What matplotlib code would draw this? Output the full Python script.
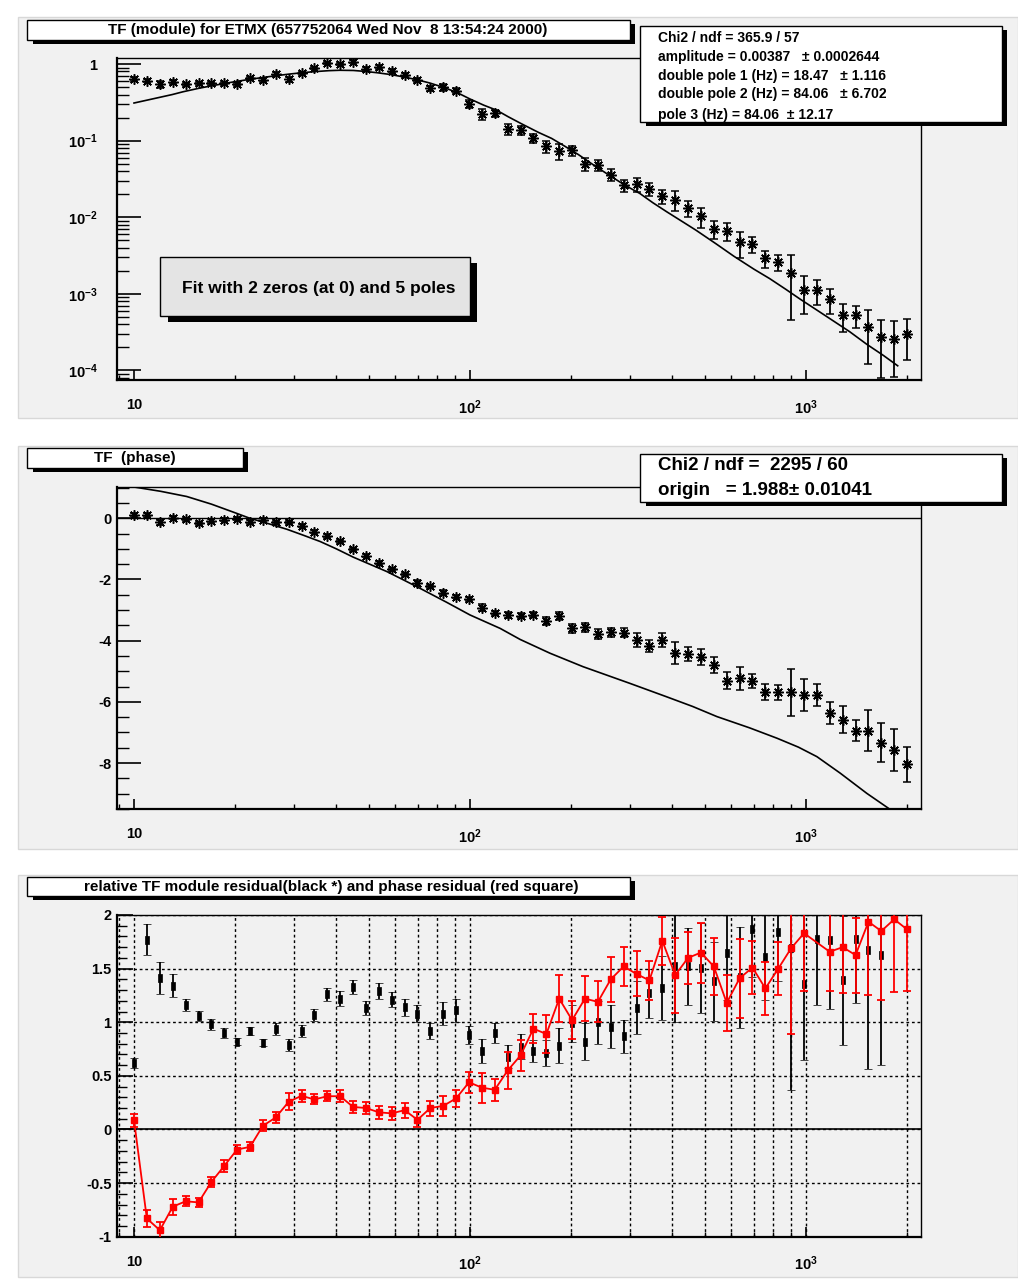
import numpy as np
import matplotlib
matplotlib.use("Agg")
import matplotlib.pyplot as plt
from matplotlib.patches import Rectangle
from matplotlib.path import Path
from matplotlib import ticker

plt.rcParams['font.family'] = ['Liberation Sans', 'DejaVu Sans']
plt.rcParams['font.weight'] = 'bold'
plt.rcParams['axes.unicode_minus'] = False
plt.rcParams['mathtext.fontset'] = 'custom'
plt.rcParams['mathtext.rm'] = 'Liberation Sans:bold'
plt.rcParams['mathtext.bf'] = 'Liberation Sans:bold'
plt.rcParams['mathtext.it'] = 'Liberation Sans:bold'

nan = np.nan

# frequencies (Hz) of the 61 measured points
freq = [10.0, 10.92, 11.94, 13.04, 14.24, 15.56, 16.99, 18.56, 20.27, 22.15,
        24.19, 26.42, 28.86, 31.52, 34.43, 37.61, 41.08, 44.88, 49.02, 53.55,
        58.48, 63.89, 69.78, 76.22, 83.26, 90.94, 99.34, 108.5, 118.5, 129.5,
        141.4, 154.5, 168.8, 184.3, 201.3, 219.9, 240.3, 262.4, 286.7, 313.1,
        342.0, 373.6, 408.1, 445.8, 486.9, 531.9, 581.0, 634.6, 693.2, 757.2,
        827.1, 903.4, 986.8, 1078, 1177, 1286, 1405, 1535, 1676, 1831,
        2000]

# TF module
mod_val = [0.636, 0.605, 0.547, 0.587, 0.547, 0.558, 0.558, 0.558, 0.547, 0.655,
           0.617, 0.740, 0.636, 0.755, 0.887, 1.03, 1.00, 1.08, 0.86, 0.92,
           0.82, 0.72, 0.62, 0.48, 0.50, 0.45, 0.305, 0.221, 0.228, 0.141,
           0.137, 0.109, 0.085, 0.073, 0.075, 0.050, 0.048, 0.036, 0.026, 0.027,
           0.0235, 0.0188, 0.0170, 0.0132, 0.0103, 0.0070, 0.0067, 0.0047, 0.0045, 0.0029,
           0.0026, 0.00186, 0.00112, 0.00112, 0.00086, 0.00053, 0.00053, 0.00037, 0.00027, 0.00026,
           0.00030]
mod_err = [0.032, 0.030, 0.060, 0.035, 0.027, 0.022, 0.022, 0.028, 0.027, 0.033,
           0.031, 0.037, 0.045, 0.038, 0.035, 0.041, 0.040, 0.043, 0.043, 0.046,
           0.041, 0.036, 0.037, 0.034, 0.055, 0.036, 0.037, 0.035, 0.023, 0.024,
           0.019, 0.015, 0.015, 0.017, 0.011, 0.010, 0.0082, 0.0065, 0.0047, 0.0057,
           0.0045, 0.0039, 0.0051, 0.0030, 0.0030, 0.0018, 0.0018, 0.0018, 0.0011, 0.00073,
           0.00062, 0.0014, 0.00058, 0.00040, 0.00031, 0.00021, 0.00017, 0.00025, 0.00019, 0.000178,
           0.000165]
mod_fit_f = [10, 11, 12, 13, 14, 15.5, 17, 18.5, 20, 22, 24, 26.5, 29, 32, 35, 38, 41, 45,
             49, 53, 58, 64, 70, 76, 83, 91, 100, 110, 120, 130, 142, 160, 175, 192, 210,
             235, 262, 290, 320, 350, 385, 430, 470, 540, 610, 700, 780, 870, 962, 1080,
             1200, 1350, 1516, 1700, 1875]
mod_fit_v = [0.31, 0.34, 0.37, 0.40, 0.435, 0.48, 0.52, 0.555, 0.59, 0.63, 0.665, 0.705,
             0.74, 0.775, 0.80, 0.82, 0.83, 0.825, 0.80, 0.77, 0.73, 0.675, 0.62, 0.565,
             0.50, 0.43, 0.35, 0.29, 0.25, 0.205, 0.167, 0.128, 0.107, 0.084, 0.066,
             0.047, 0.0345, 0.026, 0.0205, 0.0155, 0.0118, 0.0087, 0.0068, 0.0045,
             0.0031, 0.0021, 0.00158, 0.00115, 0.00085, 0.00061, 0.00045, 0.00032,
             0.00022, 0.000157, 0.000115]

# TF phase
phase_val = [0.11, 0.11, -0.13, 0.02, -0.03, -0.16, -0.09, -0.055, -0.02, -0.13,
             -0.055, -0.13, -0.13, -0.24, -0.44, -0.58, -0.76, -1.01, -1.22, -1.45,
             -1.66, -1.83, -2.12, -2.23, -2.43, -2.56, -2.65, -2.92, -3.10, -3.17,
             -3.18, -3.16, -3.36, -3.21, -3.59, -3.57, -3.79, -3.73, -3.74, -3.98,
             -4.17, -3.98, -4.41, -4.44, -4.54, -4.79, -5.31, -5.23, -5.31, -5.69,
             -5.69, -5.69, -5.77, -5.77, -6.37, -6.59, -6.94, -6.94, -7.33, -7.57,
             -8.04]
phase_err = [0.05, 0.06, 0.08, 0.05, 0.05, 0.05, 0.05, 0.05, 0.05, 0.06,
             0.05, 0.05, 0.05, 0.05, 0.05, 0.05, 0.05, 0.05, 0.05, 0.05,
             0.05, 0.05, 0.09, 0.06, 0.08, 0.06, 0.07, 0.12, 0.06, 0.10,
             0.09, 0.08, 0.13, 0.13, 0.15, 0.14, 0.16, 0.14, 0.14, 0.22,
             0.20, 0.23, 0.35, 0.23, 0.27, 0.27, 0.28, 0.37, 0.23, 0.26,
             0.25, 0.78, 0.53, 0.35, 0.36, 0.44, 0.35, 0.67, 0.64, 0.68,
             0.57]
phase_fit_f = [10, 12, 14.35, 17, 20.2, 22.1, 25, 28.5, 32, 35.8, 40, 44.9, 50, 56.5, 63,
               71, 85, 100, 123, 141, 173, 217, 300, 384, 460, 543, 680, 821, 950, 1078,
               1265, 1518, 1762, 1850]
phase_fit_v = [1.02, 0.88, 0.71, 0.46, 0.16, 0.0, -0.17, -0.36, -0.56, -0.76, -1.0, -1.27,
               -1.49, -1.74, -2.0, -2.29, -2.74, -3.16, -3.6, -3.96, -4.41, -4.85, -5.4,
               -5.83, -6.15, -6.48, -6.85, -7.19, -7.48, -7.79, -8.33, -8.99, -9.48, -9.75]

# residuals
res_mod = [0.62, 1.77, 1.41, 1.34, 1.16, 1.06, 0.98, 0.90, 0.82, 0.915,
           0.81, 0.935, 0.79, 0.92, 1.066, 1.26, 1.22, 1.33, 1.13, 1.29,
           1.21, 1.14, 1.08, 0.92, 1.08, 1.11, 0.88, 0.73, 0.90, 0.68,
           0.77, 0.73, 0.71, 0.78, 0.99, 0.82, 1.00, 0.96, 0.87, 1.135,
           1.27, 1.32, 1.52, 1.52, 1.51, 1.38, 1.65, 1.42, 1.87, 1.61,
           1.84, 1.69, 1.36, 1.78, 1.77, 1.39, 1.78, 1.67, 1.63, nan,
           nan]
res_mod_err = [0.045, 0.146, 0.15, 0.107, 0.055, 0.047, 0.05, 0.047, 0.034, 0.037,
               0.036, 0.054, 0.054, 0.058, 0.056, 0.06, 0.067, 0.067, 0.065, 0.075,
               0.07, 0.078, 0.08, 0.075, 0.107, 0.104, 0.085, 0.113, 0.093, 0.106,
               0.117, 0.10, 0.12, 0.163, 0.17, 0.17, 0.20, 0.20, 0.155, 0.245,
               0.23, 0.30, 0.52, 0.36, 0.42, 0.365, 0.44, 0.47, 0.45, 0.40,
               0.46, 1.32, 0.71, 0.62, 0.65, 0.60, 0.60, 1.11, 1.03, nan,
               nan]
res_phase = [0.087, -0.83, -0.94, -0.72, -0.67, -0.68, -0.49, -0.34, -0.187, -0.162,
             0.034, 0.112, 0.258, 0.314, 0.28, 0.31, 0.31, 0.21, 0.20, 0.16,
             0.15, 0.18, 0.09, 0.20, 0.22, 0.29, 0.44, 0.39, 0.37, 0.55,
             0.69, 0.94, 0.89, 1.22, 1.02, 1.22, 1.19, 1.40, 1.52, 1.45,
             1.39, 1.76, 1.44, 1.60, 1.65, 1.52, 1.18, 1.41, 1.51, 1.315,
             1.50, 1.69, 1.83, nan, 1.657, 1.70, 1.626, 1.937, 1.85, 1.96,
             1.865]
res_phase_err = [0.06, 0.08, 0.08, 0.075, 0.045, 0.042, 0.05, 0.055, 0.042, 0.043,
                 0.05, 0.05, 0.078, 0.058, 0.047, 0.047, 0.054, 0.055, 0.06, 0.06,
                 0.06, 0.07, 0.07, 0.07, 0.09, 0.08, 0.10, 0.14, 0.10, 0.17,
                 0.143, 0.135, 0.18, 0.22, 0.18, 0.21, 0.19, 0.21, 0.18, 0.21,
                 0.18, 0.225, 0.35, 0.24, 0.28, 0.265, 0.265, 0.37, 0.25, 0.25,
                 0.25, 0.80, 0.54, nan, 0.37, 0.43, 0.35, 0.68, 0.64, 0.68,
                 0.57]

stats1 = ["Chi2 / ndf = 365.9 / 57",
          "amplitude = 0.00387   \u00b1 0.0002644",
          "double pole 1 (Hz) = 18.47   \u00b1 1.116",
          "double pole 2 (Hz) = 84.06   \u00b1 6.702",
          "pole 3 (Hz) = 84.06  \u00b1 12.17"]
stats2 = ["Chi2 / ndf =  2295 / 60",
          "origin   = 1.988\u00b1 0.01041"]

W, H = 1018, 1282
PAD = '#f1f1f1'
fig = plt.figure(figsize=(W / 100, H / 100), dpi=100)
fig.patch.set_facecolor('white')


def rect(x0, y0, x1, y1, **kw):
    # pixel coords, origin top-left
    r = Rectangle((x0 / W, 1 - y1 / H), (x1 - x0) / W, (y1 - y0) / H,
                  transform=fig.transFigure, **kw)
    fig.add_artist(r)
    return r


def ftext(x, y, s, **kw):
    fig.text(x / W, 1 - y / H, s, transform=fig.transFigure, **kw)


def box(x0, y0, x1, y1, face='white', sh=(5, 4), z=10):
    rect(x0 + sh[0] + 1, y0 + sh[1], x1 + sh[0], y1 + sh[1], facecolor='black',
         edgecolor='none', zorder=z)
    rect(x0, y0, x1, y1, facecolor=face, edgecolor='black', lw=1.0, zorder=z + 1)


# pad backgrounds
for y0, y1 in [(17, 418), (446, 849), (875, 1277)]:
    rect(18, y0, 1018, y1, facecolor=PAD, edgecolor='#d8d8d8', lw=1, zorder=-5)

L, R = 117, 921
ax1 = fig.add_axes([L / W, 1 - 380 / H, (R - L) / W, (380 - 58) / H])
ax2 = fig.add_axes([L / W, 1 - 809 / H, (R - L) / W, (809 - 486.7) / H])
ax3 = fig.add_axes([L / W, 1 - 1236.7 / H, (R - L) / W, (1236.7 - 915) / H])

star = (8, 2, 0)
# small tall block used for the black residual points
block = Path([(-0.45, -1), (0.45, -1), (0.45, 1), (-0.45, 1), (-0.45, -1)],
             [Path.MOVETO, Path.LINETO, Path.LINETO, Path.LINETO, Path.CLOSEPOLY])

for ax in (ax1, ax2, ax3):
    ax.set_facecolor(PAD)
    ax.set_xscale('log')
    ax.set_xlim(8.9, 2200)
    for s in ('top', 'right'):
        ax.spines[s].set_linewidth(1.0)
    for s in ('bottom', 'left'):
        ax.spines[s].set_linewidth(1.6)
    ax.xaxis.set_major_locator(ticker.FixedLocator([10, 100, 1000]))
    ax.xaxis.set_major_formatter(ticker.FixedFormatter(['10', r'$10^{2}$', r'$10^{3}$']))
    ax.xaxis.set_minor_locator(ticker.LogLocator(base=10, subs=np.arange(2, 10), numticks=20))
    ax.xaxis.set_minor_formatter(ticker.NullFormatter())
    ax.tick_params(axis='x', which='major', direction='in', length=7.2, width=1.2,
                   pad=13, labelsize=10.5, top=False)
    ax.tick_params(axis='x', which='minor', direction='in', length=3.3, width=1.0, top=False)
    ax.tick_params(axis='y', right=False, labelsize=10.5)

# ---- panel 1: module
ax1.set_yscale('log')
ax1.set_ylim(7.5e-5, 1.2)
ax1.yaxis.set_major_locator(ticker.FixedLocator([1e-4, 1e-3, 1e-2, 1e-1, 1]))
ax1.yaxis.set_major_formatter(ticker.FixedFormatter(
    [r'$10^{-4}$', r'$10^{-3}$', r'$10^{-2}$', r'$10^{-1}$', '1']))
ax1.yaxis.set_minor_locator(ticker.LogLocator(base=10, subs=np.arange(2, 10), numticks=20))
ax1.yaxis.set_minor_formatter(ticker.NullFormatter())
ax1.tick_params(axis='y', which='major', direction='in', length=17.3, width=1.2, pad=14)
ax1.tick_params(axis='y', which='minor', direction='in', length=8.6, width=1.0)
ax1.plot(mod_fit_f, mod_fit_v, color='black', lw=1.2, zorder=2)
ax1.errorbar(freq, mod_val, yerr=mod_err, ls='none', color='black', marker=star,
             ms=7.5, mew=1.1, elinewidth=1.3, capsize=3, capthick=1.3, zorder=3)

# ---- panel 2: phase
ax2.set_ylim(-9.5, 1.03)
ax2.yaxis.set_major_locator(ticker.FixedLocator([-8, -6, -4, -2, 0]))
ax2.yaxis.set_major_formatter(ticker.FixedFormatter(['-8', '-6', '-4', '-2', '0']))
ax2.yaxis.set_minor_locator(ticker.MultipleLocator(0.5))
ax2.tick_params(axis='y', which='major', direction='in', length=17.3, width=1.2, pad=4)
ax2.tick_params(axis='y', which='minor', direction='in', length=8.6, width=1.0)
ax2.axhline(0, color='black', lw=1.0, zorder=1)
ax2.plot(phase_fit_f, phase_fit_v, color='black', lw=1.2, zorder=2)
ax2.errorbar(freq, phase_val, yerr=phase_err, ls='none', color='black', marker=star,
             ms=7.5, mew=1.1, elinewidth=1.3, capsize=3, capthick=1.3, zorder=3)

# ---- panel 3: residuals
ax3.set_ylim(-1, 2)
ylocs = [-1, -0.5, 0, 0.5, 1, 1.5, 2]
ax3.yaxis.set_major_locator(ticker.FixedLocator(ylocs))
ax3.yaxis.set_major_formatter(ticker.FixedFormatter(['-1', '-0.5', '0', '0.5', '1', '1.5', '2']))
ax3.yaxis.set_minor_locator(ticker.MultipleLocator(0.1))
ax3.tick_params(axis='y', which='major', direction='in', length=11.5, width=1.2, pad=4)
ax3.tick_params(axis='y', which='minor', direction='in', length=7.5, width=1.0)
ax3.xaxis.grid(True, which='both', ls=(0, (2, 2)), color='black', lw=1.0)
ax3.yaxis.grid(True, which='major', ls=(0, (2, 2)), color='black', lw=1.0)
ax3.set_axisbelow(True)
ax3.axhline(0, color='black', lw=1.2, zorder=1)
ax3.errorbar(freq, res_mod, yerr=res_mod_err, ls='none', color='black', marker=block,
             ms=6, mew=0.5, elinewidth=1.3, capsize=3, capthick=1.3, zorder=3)
fr = np.array(freq)
rp = np.array(res_phase)
ok = ~np.isnan(rp)
ax3.plot(fr[ok], rp[ok], color='red', lw=1.3, zorder=4)
ax3.errorbar(freq, res_phase, yerr=res_phase_err, ls='none', color='red', marker='s',
             ms=4, elinewidth=1.3, capsize=3, capthick=1.3, zorder=5)

for ax in (ax1, ax2, ax3):
    for lab in ax.get_xticklabels() + ax.get_yticklabels():
        lab.set_fontweight('bold')

# ---- title boxes and stat boxes
box(27, 20, 630, 40)
ftext(328, 30, "TF (module) for ETMX (657752064 Wed Nov  8 13:54:24 2000)",
      ha='center', va='center', fontsize=11, fontweight='bold', zorder=20)
box(640, 26, 1002, 122)
for s, y in zip(stats1, [38, 57, 76, 94, 115]):
    ftext(658, y, s, ha='left', va='center', fontsize=10, fontweight='bold', zorder=20)
box(160, 257, 470, 316, face='#e4e4e4', sh=(7, 6))
ftext(319, 288, "Fit with 2 zeros (at 0) and 5 poles", ha='center', va='center',
      fontsize=12.5, fontweight='bold', zorder=20)

box(27, 448, 243, 468)
ftext(135, 458, "TF  (phase)", ha='center', va='center', fontsize=11,
      fontweight='bold', zorder=20)
box(640, 454, 1002, 502)
for s, y in zip(stats2, [465.5, 490.5]):
    ftext(658, y, s, ha='left', va='center', fontsize=13.5, fontweight='bold', zorder=20)

box(27, 877, 630, 896)
ftext(331, 886.5, "relative TF module residual(black *) and phase residual (red square)",
      ha='center', va='center', fontsize=11, fontweight='bold', zorder=20)

fig.savefig("out.png", dpi=100)
